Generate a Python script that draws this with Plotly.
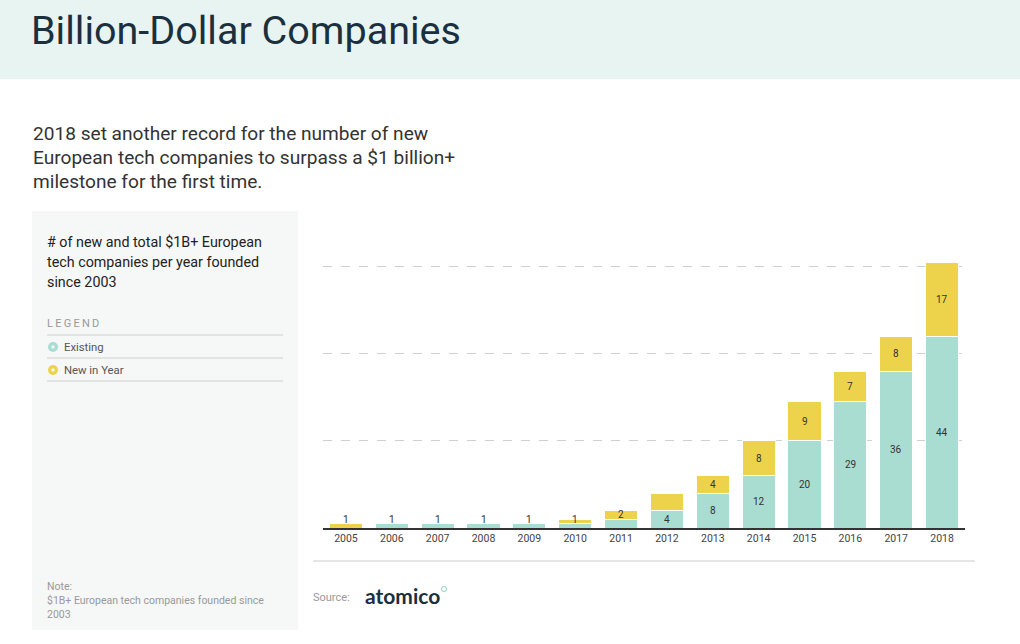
import plotly.graph_objects as go

# ---- data ----
years = [2005, 2006, 2007, 2008, 2009, 2010, 2011, 2012, 2013, 2014, 2015, 2016, 2017, 2018]
existing = [0, 1, 1, 1, 1, 1, 2, 4, 8, 12, 20, 29, 36, 44]
new_in_year = [1, 0, 0, 0, 0, 1, 2, 4, 4, 8, 9, 7, 8, 17]
existing_text = ["", "1", "1", "1", "1", "", "", "4", "8", "12", "20", "29", "36", "44"]
new_text = ["1", "", "", "", "", "1", "2", "", "4", "8", "9", "7", "8", "17"]
grid_values = [20, 40, 60]

TITLE = "Billion-Dollar Companies"
SUBTITLE = ["2018 set another record for the number of new",
            "European tech companies to surpass a $1 billion+",
            "milestone for the first time."]
PANEL_TEXT = ["# of new and total $1B+ European",
              "tech companies per year founded",
              "since 2003"]
NOTE = ["Note:", "$1B+ European tech companies founded since", "2003"]

TEAL = "#A9DDD2"
YELLOW = "#EDD34B"
DARK = "#1B2F3E"
FONT = "Roboto"

W, H = 1020, 644
def px(x): return x / W
def py(y): return 1 - y / H

fig = go.Figure()
fig.add_trace(go.Bar(x=years, y=existing, name="Existing", marker=dict(color=TEAL, line=dict(color="white", width=1)),
                     hoverinfo="x+y"))
fig.add_trace(go.Bar(x=years, y=new_in_year, name="New in Year", marker=dict(color=YELLOW, line=dict(color="white", width=1)),
                     hoverinfo="x+y"))

annotations = []
# bar labels
for yr, e, n, et, nt in zip(years, existing, new_in_year, existing_text, new_text):
    if et:
        yy = e / 2 if e >= 2 else 1.9
        annotations.append(dict(x=yr, y=yy, xref="x", yref="y", text=et, showarrow=False,
                                font=dict(family=FONT, size=10, color="#333")))
    if nt:
        yy = e + n / 2 if n >= 2 else 1.95
        annotations.append(dict(x=yr, y=yy, xref="x", yref="y", text=nt, showarrow=False,
                                font=dict(family=FONT, size=10, color="#333")))

def txt(x, y, s, size, color, **kw):
    d = dict(x=px(x), y=py(y), xref="paper", yref="paper", text=s, showarrow=False,
             xanchor="left", yanchor="middle", font=dict(family=FONT, size=size, color=color))
    d.update(kw)
    annotations.append(d)

txt(29, 30, TITLE, 39.5, DARK)
for i, line in enumerate(SUBTITLE):
    txt(31, 133 + i * 24.5, line, 19.1, "#333")
for i, line in enumerate(PANEL_TEXT):
    txt(45, 242 + i * 20, line, 14.3, "#222")
txt(45, 324, "L\u2009E\u2009G\u2009E\u2009N\u2009D", 11, "#999")
txt(62, 347, "Existing", 11.3, "#555")
txt(62, 370, "New in Year", 11.3, "#555")
for i, line in enumerate(NOTE):
    txt(45, 586 + i * 14, line, 10.5, "#999")
txt(311, 597, "Source:", 11, "#999")
txt(363, 595, "<b>atomico</b>", 21, DARK, font=dict(family="Lato", size=21, color=DARK))

shapes = [
    dict(type="rect", xref="paper", yref="paper", x0=0, x1=1, y0=py(79), y1=1,
         fillcolor="#E7F4F1", line=dict(width=0), layer="below"),
    dict(type="rect", xref="paper", yref="paper", x0=px(32), x1=px(298), y0=py(630), y1=py(211),
         fillcolor="#F6F7F7", line=dict(width=0), layer="below"),
    dict(type="line", xref="paper", yref="paper", x0=px(313), x1=px(975), y0=py(561), y1=py(561),
         line=dict(color="#CCCCCC", width=1)),
]
for yl in (335, 358, 381):
    shapes.append(dict(type="line", xref="paper", yref="paper", x0=px(47), x1=px(283), y0=py(yl), y1=py(yl),
                       line=dict(color="#CFCFCF", width=1)))
for cy, col in ((347, TEAL), (370, YELLOW)):
    shapes.append(dict(type="circle", xref="paper", yref="paper", x0=px(48), x1=px(58), y0=py(cy + 5), y1=py(cy - 5),
                       fillcolor=col, line=dict(width=0)))
    shapes.append(dict(type="circle", xref="paper", yref="paper", x0=px(51.2), x1=px(54.8), y0=py(cy + 1.8), y1=py(cy - 1.8),
                       fillcolor="#F4F4F4", line=dict(width=0)))
shapes.append(dict(type="circle", xref="paper", yref="paper", x0=px(441.5), x1=px(446.5), y0=py(591.5), y1=py(586.5),
                   fillcolor="white", line=dict(color="#8FCFC3", width=1)))

plot_top = 528 - 62 * 4.36
fig.update_layout(
    width=W, height=H,
    margin=dict(l=0, r=0, t=0, b=0),
    paper_bgcolor="white", plot_bgcolor="rgba(0,0,0,0)",
    barmode="stack", bargap=0.28,
    showlegend=False,
    font=dict(family=FONT),
    annotations=annotations, shapes=shapes,
    xaxis=dict(domain=[px(323), px(965)], range=[2004.5, 2018.5], tickvals=years,
               ticktext=[str(y) for y in years], showgrid=False, zeroline=False,
               showline=True, linecolor="#333", linewidth=1.5, ticks="",
               tickfont=dict(family=FONT, size=10.5, color="#444")),
    yaxis=dict(domain=[py(528), py(plot_top)], range=[0, 62], tickvals=grid_values,
               showticklabels=False, showgrid=True, gridcolor="#D0D0D0", griddash="dash",
               gridwidth=1, zeroline=False, showline=False),
)

fig.write_html("out.html", config={"displayModeBar": False},
               post_script="document.body.style.margin='0';")
